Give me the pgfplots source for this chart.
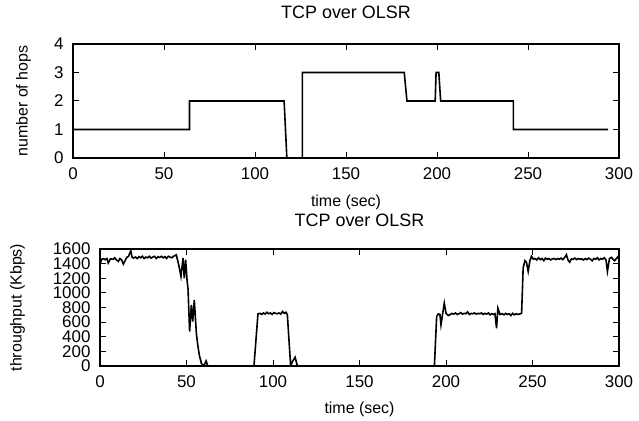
\documentclass[border=0pt]{standalone}
\usepackage{fontspec}
\setmainfont{Liberation Sans}
\usepackage{pgfplots}
\pgfplotsset{compat=1.18}

\pgfplotsset{
  gnu/.style={
    scale only axis,
    anchor=south west,
    xmin=0, xmax=300,
    xtick={0,50,...,300},
    tick align=inside,
    tick pos=both,
    major tick length=6bp,
    axis line style={line width=1.1bp},
    every tick/.style={line width=1bp, black},
    tick label style={font=\fontsize{17}{19}\selectfont},
    xticklabel style={yshift=-6bp},
    yticklabel style={xshift=-6bp},
    label style={font=\fontsize{16}{18}\selectfont},
    title style={font=\fontsize{18}{20}\selectfont, anchor=base},
    xlabel style={anchor=base},
    ylabel style={anchor=center},
    /pgf/number format/assume math mode=true,
    /pgf/number format/1000 sep={},
    xlabel={time (sec)},
    title={TCP over OLSR},
  }
}

\begin{document}
\begin{tikzpicture}
\useasboundingbox (0bp,0bp) rectangle (639bp,421bp);

% top: number of hops
\begin{axis}[gnu,
  at={(73bp,263bp)},
  width=546bp, height=114bp,
  ymin=0, ymax=4, ytick={0,1,2,3,4},
  ylabel={number of hops},
  xlabel style={at={(axis description cs:0.5,-0.425)}},
  ylabel style={at={(axis description cs:-0.0907,0.5)}},
  title style={at={(axis description cs:0.5,1.167)}},
]
\addplot[black, line width=1.6bp] coordinates {
  (0,1) (64,1) (64,2) (116,2) (117.5,0) (126,0) (126,3) (182,3) (183.5,2)
  (199,2) (199.5,3) (201,3) (202,2) (242,2) (242,1) (294,1)
};
\end{axis}

% bottom: throughput
\begin{axis}[gnu,
  at={(100bp,55bp)},
  width=519bp, height=117bp,
  ymin=0, ymax=1600, ytick={0,200,...,1600},
  ylabel={throughput (Kbps)},
  xlabel style={at={(axis description cs:0.5,-0.41)}},
  ylabel style={at={(axis description cs:-0.159,0.5)}},
  title style={at={(axis description cs:0.5,1.145)}},
]
\addplot[black, line width=1.6bp] coordinates {
  (0,1394) (1,1460) (2,1467) (3,1455) (4,1470) (4.8,1408) (6,1465) (7.7,1460)
  (8.5,1480) (9.5,1450) (10.6,1430) (11.5,1470) (12.5,1450) (13.5,1394)
  (14.5,1440) (15.5,1486) (16.5,1500) (17.8,1577) (18.5,1490) (19.3,1476)
  (20.5,1490) (21.5,1470) (22.5,1495) (23.5,1480) (24.5,1500) (25.5,1470)
  (26.5,1490) (27.5,1480) (28.5,1500) (29.5,1475) (30.5,1490) (31.5,1500)
  (32.5,1470) (33.5,1495) (34.5,1485) (35.5,1500) (36.5,1480) (37.5,1495)
  (38.5,1470) (39.5,1500) (40.5,1490) (41.5,1480) (42.5,1500) (44.1,1520)
  (45.5,1385) (46.8,1225) (48,1476) (48.7,1200) (49.5,1454) (50.3,1180)
  (50.9,1050) (51.8,470) (52.8,836) (53.6,608) (54.5,905) (55.7,450)
  (56.5,288) (57.4,150) (58.6,37) (60,0) (61.3,69) (62.3,0)
  (89,0) (91.3,713) (92.5,720) (93.5,705) (94.5,725) (95.5,710) (96.5,735)
  (97.5,715) (98.5,725) (99.5,705) (100.5,730) (101.5,720) (102.5,715)
  (103.5,725) (104.5,710) (105.5,745) (106.5,720) (107.5,735) (108.3,700)
  (110.2,0) (111.2,60) (112.8,119) (114.1,0)
  (193.3,0) (194.6,677) (195.6,713) (196.5,705) (197.1,562) (198.1,720)
  (199,859) (200,722) (201.3,690) (202.5,705) (203.3,718) (204.5,710)
  (205.5,725) (206.5,705) (207.5,715) (208.5,730) (209.5,710) (210.5,720)
  (211.5,715) (212.5,740) (213.5,705) (214.5,720) (215.5,715) (216.5,725)
  (217.5,710) (218.5,720) (219.5,715) (220.5,725) (221.5,705) (222.5,720)
  (223.5,710) (224.5,725) (225.5,700) (226.5,715) (227.5,705) (228.3,715)
  (229.2,517) (230,790) (231.2,705) (232.5,715) (233.5,700) (234.5,720)
  (235.5,705) (236.5,715) (237.5,690) (238.5,720) (239.5,700) (240.5,715)
  (241.5,705) (242.5,710) (243.7,722)
  (244.6,1340) (245.6,1440) (246.5,1420) (247.5,1294) (248.5,1440) (249.4,1500)
  (250.5,1460) (251.5,1470) (252.5,1450) (253.5,1480) (254.5,1455) (255.5,1470)
  (256.5,1440) (257.5,1475) (258.5,1460) (259.5,1470) (260.5,1450) (261.5,1465)
  (262.5,1470) (263.5,1455) (264.5,1470) (265.5,1460) (266.5,1475) (267.5,1455)
  (268.5,1480) (269.6,1522) (270.5,1450) (271.5,1420) (272.5,1465) (273.5,1460)
  (274.5,1475) (275.5,1455) (276.5,1470) (277.5,1460) (278.5,1465) (279.5,1450)
  (280.5,1470) (281.5,1455) (282.5,1475) (283.5,1460) (284.5,1440) (285.5,1470)
  (286.5,1460) (287.5,1480) (288.5,1450) (289.5,1470) (290.5,1460) (291.5,1480)
  (292.5,1450) (293.3,1294) (294.5,1470) (295.6,1486) (296.5,1460) (297.5,1440)
  (298.5,1470) (299.4,1495) (300,1460)
};
\end{axis}
\end{tikzpicture}
\end{document}
